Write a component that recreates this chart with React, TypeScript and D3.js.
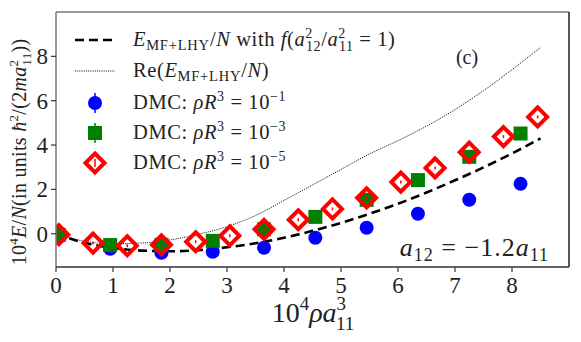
import React from 'react';
import * as d3 from 'd3';

// curve samples
const curveX = [0, 0.5, 1, 1.5, 2, 2.5, 3, 3.5, 4, 4.5, 5, 5.5, 6, 6.5, 7, 7.5, 8, 8.5];
const mfLhy = [0, -0.41, -0.64, -0.76, -0.79, -0.74, -0.61, -0.43, -0.18, 0.13, 0.49, 0.9, 1.35, 1.86, 2.41, 2.99, 3.62, 4.3];
const reMfLhy = [0, -0.34, -0.45, -0.42, -0.28, -0.02, 0.32, 0.82, 1.5, 2.2, 2.9, 3.6, 4.2, 4.85, 5.6, 6.45, 7.4, 8.4];

// DMC points
const dmcX = [0.05, 0.95, 1.85, 2.75, 3.65, 4.55, 5.45, 6.35, 7.25, 8.15];
const dmcR1 = [-0.05, -0.68, -0.86, -0.81, -0.63, -0.18, 0.27, 0.9, 1.53, 2.25];
const dmcR3 = [-0.05, -0.51, -0.5, -0.32, 0.2, 0.76, 1.53, 2.42, 3.47, 4.52];
const dmcX5 = [0.05, 0.65, 1.25, 1.85, 2.45, 3.05, 3.65, 4.25, 4.85, 5.45, 6.05, 6.65, 7.25, 7.85, 8.45];
const dmcR5 = [-0.04, -0.42, -0.54, -0.5, -0.36, -0.09, 0.2, 0.63, 1.12, 1.62, 2.33, 2.97, 3.68, 4.38, 5.27];

const xTicks = [0, 1, 2, 3, 4, 5, 6, 7, 8];
const yTicks = [0, 2, 4, 6, 8];

const W = 581;
const H = 342;
const margin = { top: 12, right: 12, bottom: 75, left: 56 };
const FONT = '"Liberation Serif", "DejaVu Serif", serif';

const App = () => {
  const x = d3.scaleLinear().domain([0, 9]).range([margin.left, W - margin.right]);
  const y = d3.scaleLinear().domain([-1.5, 10]).range([H - margin.bottom, margin.top]);

  const line = d3
    .line<number>()
    .x((_, i) => x(curveX[i]))
    .y(d => y(d))
    .curve(d3.curveMonotoneX);

  const diamond = (cx: number, cy: number, r = 9.5) =>
    `M${cx},${cy - r}L${cx + r},${cy}L${cx},${cy + r}L${cx - r},${cy}Z`;

  const x0 = margin.left;
  const x1 = W - margin.right;
  const y0 = H - margin.bottom;
  const y1 = margin.top;

  const legX = 95;
  const legText = 133;
  const legRows = [40, 71, 103, 133, 163];

  const dmcLabel = (exp: string) => (
    <>
      DMC: <tspan fontStyle="italic">ρR</tspan>
      <tspan fontSize={14} dy={-8}>3</tspan>
      <tspan dy={8}> = 10</tspan>
      <tspan fontSize={14} dy={-8}>−{exp}</tspan>
    </>
  );

  return (
    <svg width={W} height={H} style={{ position: 'absolute', left: 0, top: 0, background: '#fff' }} fontFamily={FONT}>
      <defs>
        <clipPath id="plot">
          <rect x={x0} y={y1} width={x1 - x0} height={y0 - y1} />
        </clipPath>
      </defs>

      <g clipPath="url(#plot)">
        <path d={line(reMfLhy) ?? ''} fill="none" stroke="#000" strokeWidth={1} strokeDasharray="1 1.2" />
        <path d={line(mfLhy) ?? ''} fill="none" stroke="#000" strokeWidth={2.6} strokeDasharray="9 5" />

        {dmcR1.map((v, i) => (
          <circle key={'b' + i} cx={x(dmcX[i])} cy={y(v)} r={7} fill="#0000ff" />
        ))}
        {dmcR3.map((v, i) => (
          <rect key={'g' + i} x={x(dmcX[i]) - 7} y={y(v) - 7} width={14} height={14} fill="#008000" />
        ))}
        {dmcR5.map((v, i) => (
          <g key={'r' + i}>
            <path d={diamond(x(dmcX5[i]), y(v))} fill="none" stroke="#ff0000" strokeWidth={4} />
            <line x1={x(dmcX5[i])} x2={x(dmcX5[i])} y1={y(v) - 1.5} y2={y(v) + 1.5} stroke="#ff0000" strokeWidth={1.5} />
          </g>
        ))}
      </g>

      {/* frame */}
      <line x1={x0} x2={x1} y1={y1} y2={y1} stroke="#777" strokeWidth={1.5} />
      <line x1={x0} x2={x0} y1={y1} y2={y0} stroke="#777" strokeWidth={1.5} />
      <line x1={x1} x2={x1} y1={y1} y2={y0} stroke="#222" strokeWidth={1.5} />
      <line x1={x0} x2={x1} y1={y0} y2={y0} stroke="#333" strokeWidth={1.5} />

      {/* x axis */}
      {xTicks.map(t => (
        <g key={'xt' + t}>
          <line x1={x(t)} x2={x(t)} y1={y0} y2={y0 + 5} stroke="#333" strokeWidth={1.2} />
          <text x={x(t)} y={y0 + 26} textAnchor="middle" fontSize={23} fill="#222">{t}</text>
        </g>
      ))}
      {/* y axis */}
      {yTicks.map(t => (
        <g key={'yt' + t}>
          <line x1={x0 - 5} x2={x0} y1={y(t)} y2={y(t)} stroke="#333" strokeWidth={1.2} />
          <text x={x0 - 8} y={y(t) + 8} textAnchor="end" fontSize={23} fill="#222">{t}</text>
        </g>
      ))}

      {/* axis titles */}
      <text x={313} y={322} textAnchor="middle" fontSize={28} fill="#222">
        10<tspan fontSize={19} dy={-12}>4</tspan>
        <tspan dy={12} fontStyle="italic">ρa</tspan>
        <tspan fontSize={19} dy={-12}>3</tspan>
        <tspan fontSize={19} dx={-10} dy={20}>11</tspan>
      </text>
      <text transform={`translate(26,152) rotate(-90)`} textAnchor="middle" fontSize={20} letterSpacing={0.3} fill="#222">
        10<tspan fontSize={13} dy={-8}>4</tspan>
        <tspan dy={8} fontStyle="italic">E</tspan>/<tspan fontStyle="italic">N</tspan>(in units <tspan fontStyle="italic">ħ</tspan>
        <tspan fontSize={13} dy={-8}>2</tspan>
        <tspan dy={8}>/(2</tspan><tspan fontStyle="italic">ma</tspan>
        <tspan fontSize={13} dy={-8}>2</tspan>
        <tspan fontSize={13} dx={-6} dy={13}>11</tspan>
        <tspan dy={-5}>))</tspan>
      </text>

      {/* annotations */}
      <text x={467} y={64} textAnchor="middle" fontSize={20} fill="#222">(c)</text>
      <text x={549} y={256} textAnchor="end" fontSize={26} letterSpacing={1} fill="#222">
        <tspan fontStyle="italic">a</tspan>
        <tspan fontSize={18} dy={5}>12</tspan>
        <tspan dy={-5}> = −1.2</tspan>
        <tspan fontStyle="italic">a</tspan>
        <tspan fontSize={18} dy={5}>11</tspan>
      </text>

      {/* legend */}
      <g fill="#222" fontSize={20.5} letterSpacing={0.6}>
        <line x1={legX - 20} x2={legX + 20} y1={legRows[0]} y2={legRows[0]} stroke="#000" strokeWidth={2.6} strokeDasharray="9 5" />
        <text x={legText} y={legRows[0] + 6}>
          <tspan fontStyle="italic">E</tspan>
          <tspan fontSize={14.5} dy={4} letterSpacing={0.8}>MF+LHY</tspan>
          <tspan dy={-4}>/</tspan><tspan fontStyle="italic">N</tspan> with <tspan fontStyle="italic">f</tspan>(<tspan fontStyle="italic">a</tspan>
          <tspan fontSize={14} dy={-8}>2</tspan>
          <tspan fontSize={14} dx={-7} dy={13}>12</tspan>
          <tspan dy={-5}>/</tspan><tspan fontStyle="italic">a</tspan>
          <tspan fontSize={14} dy={-8}>2</tspan>
          <tspan fontSize={14} dx={-7} dy={13}>11</tspan>
          <tspan dy={-5}> = 1)</tspan>
        </text>

        <line x1={legX - 20} x2={legX + 20} y1={legRows[1]} y2={legRows[1]} stroke="#000" strokeWidth={1} strokeDasharray="1 1.2" />
        <text x={legText} y={legRows[1] + 6}>
          Re(<tspan fontStyle="italic">E</tspan>
          <tspan fontSize={14.5} dy={4} letterSpacing={0.8}>MF+LHY</tspan>
          <tspan dy={-4}>/</tspan><tspan fontStyle="italic">N</tspan>)
        </text>

        <line x1={legX} x2={legX} y1={legRows[2] - 10} y2={legRows[2] + 10} stroke="#0000ff" strokeWidth={1.5} />
        <circle cx={legX} cy={legRows[2]} r={7} fill="#0000ff" />
        <text x={legText} y={legRows[2] + 6}>{dmcLabel('1')}</text>

        <line x1={legX} x2={legX} y1={legRows[3] - 10} y2={legRows[3] + 10} stroke="#008000" strokeWidth={1.5} />
        <rect x={legX - 7} y={legRows[3] - 7} width={14} height={14} fill="#008000" />
        <text x={legText} y={legRows[3] + 6}>{dmcLabel('3')}</text>

        <line x1={legX} x2={legX} y1={legRows[4] - 4} y2={legRows[4] + 4} stroke="#ff0000" strokeWidth={1.5} />
        <path d={diamond(legX, legRows[4])} fill="none" stroke="#ff0000" strokeWidth={4} />
        <text x={legText} y={legRows[4] + 6}>{dmcLabel('5')}</text>
      </g>
    </svg>
  );
};

export default App;
